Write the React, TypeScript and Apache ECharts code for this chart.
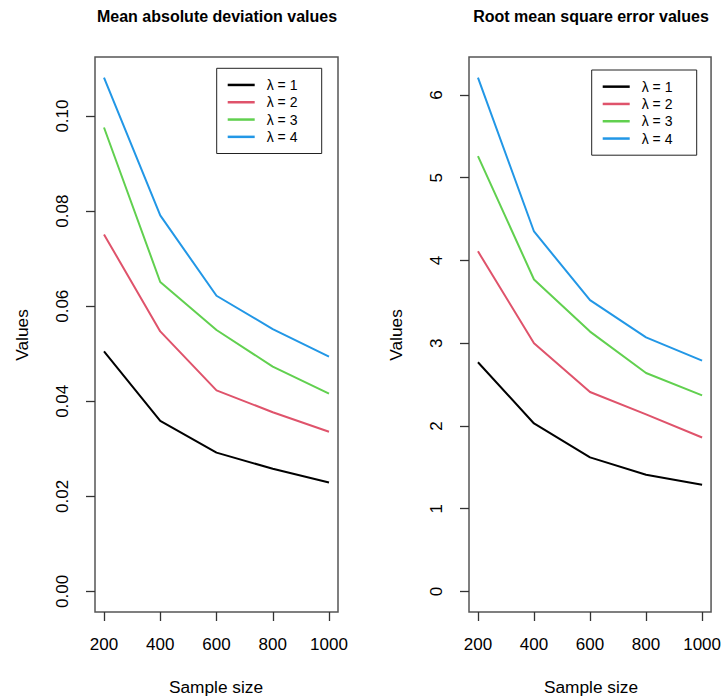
import React, { useEffect, useRef } from 'react';
import * as echarts from 'echarts';

const sampleSizes = [200, 400, 600, 800, 1000];
const lambdaNames = ['λ = 1', 'λ = 2', 'λ = 3', 'λ = 4'];
const lineColors = ['#000000', '#DF536B', '#61D04F', '#2297E6'];

const madLambda1 = [0.0505, 0.0359, 0.0292, 0.0258, 0.0229];
const madLambda2 = [0.0751, 0.0547, 0.0423, 0.0377, 0.0336];
const madLambda3 = [0.0976, 0.0651, 0.055, 0.0473, 0.0416];
const madLambda4 = [0.1081, 0.0791, 0.0622, 0.0552, 0.0494];

const rmseLambda1 = [2.77, 2.03, 1.62, 1.41, 1.29];
const rmseLambda2 = [4.11, 3.0, 2.41, 2.14, 1.86];
const rmseLambda3 = [5.26, 3.77, 3.14, 2.64, 2.37];
const rmseLambda4 = [6.21, 4.35, 3.52, 3.07, 2.79];

const xTickValues = [200, 400, 600, 800, 1000];
const madTickValues = [0, 0.02, 0.04, 0.06, 0.08, 0.1];
const rmseTickValues = [0, 1, 2, 3, 4, 5, 6];

const titles = ['Mean absolute deviation values', 'Root mean square error values'];
const xAxisTitle = 'Sample size';
const yAxisTitle = 'Values';

const FONT = '"Liberation Sans", Arial, sans-serif';

function rRange(lo: number, hi: number): [number, number] {
  const ext = (hi - lo) * 0.04;
  return [lo - ext, hi + ext];
}

export default function App() {
  const ref = useRef<HTMLDivElement>(null);

  useEffect(() => {
    if (!ref.current) return;
    const chart = echarts.init(ref.current, null, { renderer: 'svg' });

    const madSets = [madLambda1, madLambda2, madLambda3, madLambda4];
    const rmseSets = [rmseLambda1, rmseLambda2, rmseLambda3, rmseLambda4];
    const xr = rRange(Math.min(...sampleSizes), Math.max(...sampleSizes));
    const madR = rRange(0, Math.max(...madSets.flat()));
    const rmseR = rRange(0, Math.max(...rmseSets.flat()));

    const grids = [
      { left: 95, top: 57, width: 243, height: 555 },
      { left: 469, top: 57, width: 244, height: 555 },
    ];

    const xAxisCommon = (gridIndex: number) => ({
      type: 'value',
      gridIndex,
      min: xr[0],
      max: xr[1],
      axisLine: { show: false, onZero: false },
      splitLine: { show: false },
      axisTick: { show: true, length: 9, customValues: xTickValues, lineStyle: { color: '#333', width: 1.3 } },
      axisLabel: {
        customValues: xTickValues,
        margin: 24,
        fontSize: 17,
        fontFamily: FONT,
        color: '#000',
        formatter: (v: number) => String(v),
      },
    });

    const yAxisCommon = (gridIndex: number, range: [number, number], ticks: number[], digits: number) => ({
      type: 'value',
      gridIndex,
      min: range[0],
      max: range[1],
      axisLine: { show: false, onZero: false },
      splitLine: { show: false },
      axisTick: { show: true, length: 9, customValues: ticks, lineStyle: { color: '#333', width: 1.3 } },
      axisLabel: {
        customValues: ticks,
        rotate: 90,
        margin: 24,
        fontSize: 17,
        fontFamily: FONT,
        color: '#000',
        formatter: (v: number) => v.toFixed(digits),
      },
    });

    const series: any[] = [];
    madSets.forEach((arr, i) => {
      series.push({
        type: 'line',
        name: lambdaNames[i],
        xAxisIndex: 0,
        yAxisIndex: 0,
        data: sampleSizes.map((x, j) => [x, arr[j]]),
        symbol: 'none',
        lineStyle: { width: 2, color: lineColors[i] },
        itemStyle: { color: lineColors[i] },
      });
    });
    rmseSets.forEach((arr, i) => {
      series.push({
        type: 'line',
        name: lambdaNames[i],
        xAxisIndex: 1,
        yAxisIndex: 1,
        data: sampleSizes.map((x, j) => [x, arr[j]]),
        symbol: 'none',
        lineStyle: { width: 2, color: lineColors[i] },
        itemStyle: { color: lineColors[i] },
      });
    });

    const legendCommon = {
      data: lambdaNames,
      orient: 'vertical',
      icon: 'rect',
      itemWidth: 27,
      itemHeight: 2.5,
      itemGap: 0,
      selectedMode: false,
      borderColor: '#222',
      borderWidth: 1,
      borderRadius: 0,
      padding: [8, 10, 8, 11],
      textStyle: {
        fontSize: 14,
        fontFamily: FONT,
        color: '#000',
        lineHeight: 17.3,
        padding: [0, 0, 0, 7],
        width: 45,
      },
    };

    const textEl = (text: string, x: number, y: number, size: number, bold: boolean, rotation = 0) => ({
      type: 'text',
      x,
      y,
      rotation,
      style: {
        text,
        fontSize: size,
        fontWeight: bold ? 'bold' : 'normal',
        fontFamily: FONT,
        fill: '#000',
        textAlign: 'center',
        textVerticalAlign: 'middle',
      },
    });

    chart.setOption({
      animation: false,
      backgroundColor: '#fff',
      grid: grids.map((g) => ({ ...g, show: true, borderColor: '#555', borderWidth: 1.5, backgroundColor: 'transparent' })),
      xAxis: [xAxisCommon(0), xAxisCommon(1)],
      yAxis: [yAxisCommon(0, madR, madTickValues, 2), yAxisCommon(1, rmseR, rmseTickValues, 0)],
      legend: [
        { ...legendCommon, left: 216.7, top: 68.3 },
        { ...legendCommon, left: 591.7, top: 70 },
      ],
      series,
      graphic: [
        textEl(titles[0], 217, 16, 16, true),
        textEl(titles[1], 591, 16, 16, true),
        textEl(xAxisTitle, 216, 687, 17.3, false),
        textEl(xAxisTitle, 591, 687, 17.3, false),
        textEl(yAxisTitle, 22, 335, 17.3, false, Math.PI / 2),
        textEl(yAxisTitle, 396, 335, 17.3, false, Math.PI / 2),
      ],
    });

    return () => chart.dispose();
  }, []);

  return <div ref={ref} style={{ position: 'absolute', left: 0, top: 0, width: 724, height: 698 }} />;
}
